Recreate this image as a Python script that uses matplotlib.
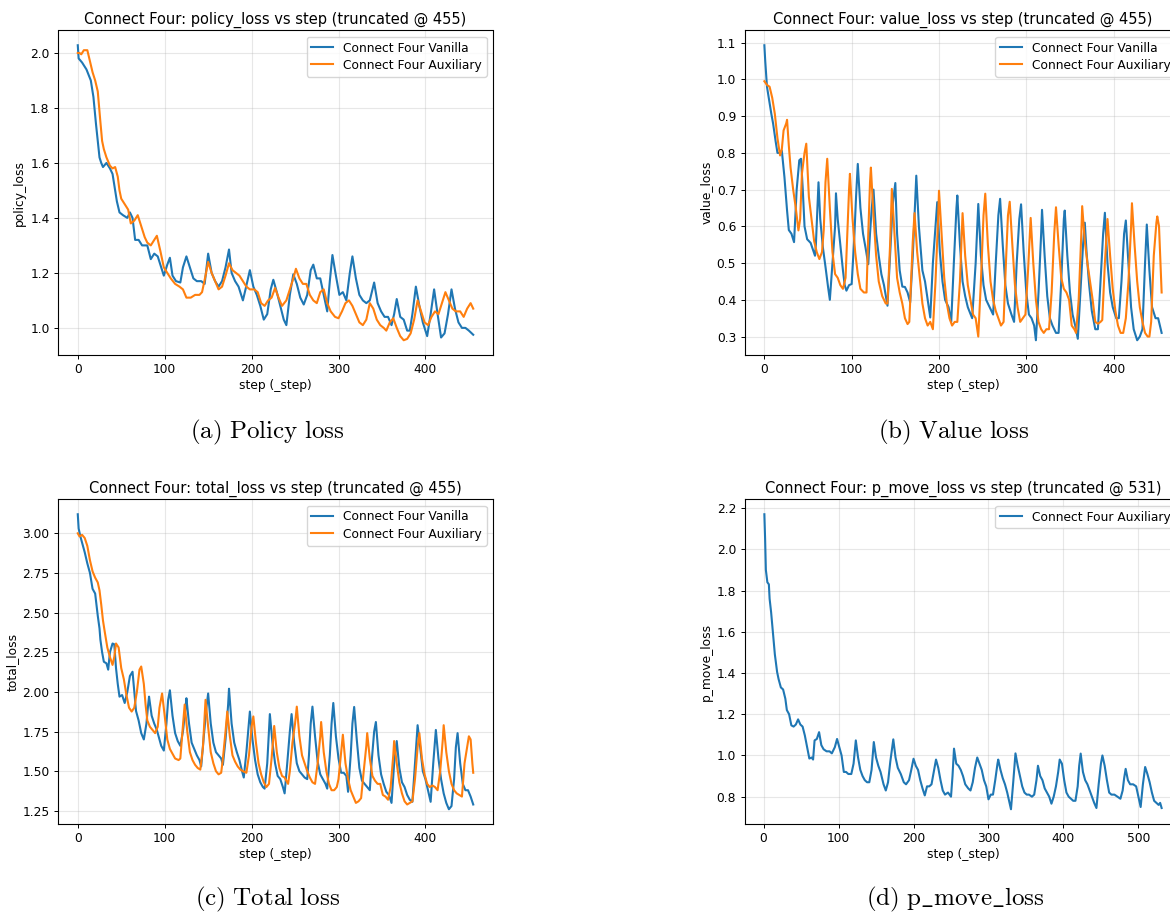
import matplotlib

matplotlib.use("Agg")
import matplotlib.pyplot as plt

# Connect Four training curves, (step, value) vertices per run.
policy_vanilla_steps = [0, 1, 5, 10, 15, 18, 21, 25, 27, 29, 33, 37, 40, 45, 48, 52, 57, 60, 63, 66, 70, 74, 80, 84, 88, 92, 95, 99, 103, 106, 109, 113, 118, 121, 125, 129, 133, 137, 142, 146, 150, 154, 158, 162, 166, 170, 174, 177, 181, 185, 190, 193, 198, 202, 206, 210, 214, 218, 222, 225, 229, 233, 237, 240, 244, 248, 252, 256, 260, 264, 268, 271, 275, 279, 283, 287, 290, 293, 297, 301, 305, 309, 313, 316, 320, 324, 328, 332, 336, 341, 345, 349, 353, 357, 361, 364, 367, 371, 375, 379, 382, 385, 389, 393, 397, 402, 406, 410, 414, 418, 422, 426, 430, 434, 438, 442, 446, 450, 455]
policy_vanilla = [2.028, 1.98, 1.965, 1.94, 1.90, 1.84, 1.74, 1.62, 1.60, 1.585, 1.60, 1.58, 1.56, 1.46, 1.42, 1.41, 1.40, 1.42, 1.40, 1.32, 1.32, 1.30, 1.30, 1.25, 1.27, 1.26, 1.23, 1.19, 1.23, 1.255, 1.19, 1.17, 1.165, 1.22, 1.26, 1.22, 1.18, 1.17, 1.17, 1.16, 1.27, 1.20, 1.17, 1.15, 1.17, 1.22, 1.285, 1.20, 1.17, 1.15, 1.10, 1.14, 1.21, 1.15, 1.12, 1.08, 1.03, 1.05, 1.14, 1.175, 1.13, 1.08, 1.03, 1.01, 1.12, 1.195, 1.16, 1.11, 1.085, 1.12, 1.21, 1.23, 1.18, 1.18, 1.12, 1.06, 1.17, 1.265, 1.19, 1.12, 1.13, 1.10, 1.20, 1.26, 1.18, 1.12, 1.10, 1.09, 1.10, 1.165, 1.09, 1.06, 1.04, 1.04, 1.01, 1.05, 1.105, 1.04, 1.03, 0.99, 0.99, 1.05, 1.15, 1.08, 1.02, 0.97, 1.05, 1.14, 1.05, 0.965, 0.98, 1.05, 1.14, 1.07, 1.02, 1.00, 1.00, 0.99, 0.975]

policy_aux_steps = [0, 2, 4, 7, 11, 14, 17, 20, 23, 26, 28, 30, 33, 37, 40, 43, 46, 48, 50, 54, 58, 61, 65, 69, 73, 77, 80, 84, 88, 91, 95, 99, 103, 107, 112, 117, 121, 125, 130, 135, 140, 143, 147, 150, 154, 158, 162, 166, 170, 174, 178, 182, 186, 190, 194, 198, 203, 207, 211, 215, 219, 223, 227, 231, 235, 240, 244, 248, 251, 255, 259, 263, 267, 271, 275, 279, 283, 287, 291, 296, 300, 304, 308, 312, 316, 320, 324, 328, 332, 336, 340, 344, 348, 352, 355, 359, 363, 367, 371, 375, 379, 383, 387, 391, 395, 399, 403, 407, 411, 415, 419, 423, 427, 431, 435, 440, 444, 448, 452, 455]
policy_aux = [2.00, 2.00, 1.995, 2.01, 2.01, 1.97, 1.93, 1.90, 1.86, 1.75, 1.68, 1.65, 1.62, 1.59, 1.58, 1.585, 1.55, 1.50, 1.47, 1.45, 1.43, 1.38, 1.39, 1.41, 1.37, 1.33, 1.31, 1.30, 1.32, 1.335, 1.28, 1.22, 1.20, 1.18, 1.16, 1.15, 1.14, 1.11, 1.11, 1.12, 1.12, 1.13, 1.19, 1.24, 1.20, 1.17, 1.14, 1.15, 1.19, 1.235, 1.21, 1.20, 1.19, 1.17, 1.15, 1.14, 1.14, 1.13, 1.09, 1.08, 1.10, 1.11, 1.145, 1.11, 1.08, 1.10, 1.14, 1.18, 1.215, 1.18, 1.16, 1.16, 1.12, 1.10, 1.09, 1.13, 1.14, 1.09, 1.06, 1.04, 1.035, 1.06, 1.09, 1.10, 1.08, 1.05, 1.02, 1.01, 1.03, 1.09, 1.07, 1.03, 1.01, 1.00, 0.99, 1.02, 1.035, 1.00, 0.97, 0.955, 0.96, 0.98, 1.03, 1.10, 1.06, 1.02, 1.01, 1.04, 1.06, 1.05, 1.09, 1.13, 1.10, 1.07, 1.06, 1.06, 1.04, 1.07, 1.09, 1.07]

value_vanilla_steps = [0, 1, 3, 5, 8, 10, 13, 15, 18, 20, 23, 26, 28, 31, 34, 37, 40, 42, 44, 46, 49, 53, 56, 58, 59, 61, 62, 64, 67, 70, 73, 75, 78, 81, 82, 84, 87, 90, 92, 94, 97, 100, 103, 105, 107, 110, 113, 116, 119, 121, 123, 125, 128, 131, 134, 137, 141, 144, 147, 150, 152, 155, 158, 161, 164, 167, 170, 173, 174, 177, 181, 184, 187, 190, 193, 196, 198, 201, 204, 207, 211, 214, 217, 220, 221, 224, 227, 230, 233, 238, 242, 245, 248, 251, 254, 258, 262, 265, 268, 270, 273, 276, 279, 283, 286, 289, 292, 294, 297, 300, 303, 306, 309, 311, 314, 317, 318, 321, 324, 327, 330, 334, 337, 340, 343, 344, 347, 350, 353, 356, 359, 362, 365, 367, 369, 372, 375, 379, 382, 385, 388, 390, 393, 396, 399, 403, 406, 409, 412, 414, 417, 420, 423, 427, 430, 433, 436, 438, 441, 444, 448, 451, 453, 455]
value_vanilla = [1.093, 1.05, 0.98, 0.95, 0.906, 0.88, 0.83, 0.80, 0.80, 0.806, 0.734, 0.643, 0.59, 0.58, 0.557, 0.70, 0.78, 0.784, 0.70, 0.60, 0.565, 0.555, 0.534, 0.52, 0.55, 0.66, 0.72, 0.62, 0.543, 0.49, 0.434, 0.40, 0.50, 0.60, 0.69, 0.62, 0.55, 0.48, 0.44, 0.425, 0.44, 0.443, 0.57, 0.68, 0.77, 0.65, 0.58, 0.54, 0.497, 0.58, 0.65, 0.70, 0.58, 0.52, 0.47, 0.44, 0.384, 0.52, 0.66, 0.718, 0.58, 0.48, 0.436, 0.435, 0.42, 0.393, 0.52, 0.68, 0.738, 0.60, 0.48, 0.45, 0.40, 0.352, 0.50, 0.60, 0.666, 0.53, 0.45, 0.40, 0.38, 0.34, 0.50, 0.65, 0.684, 0.55, 0.45, 0.41, 0.38, 0.35, 0.50, 0.661, 0.52, 0.44, 0.40, 0.38, 0.36, 0.50, 0.63, 0.675, 0.55, 0.44, 0.39, 0.36, 0.34, 0.50, 0.62, 0.66, 0.53, 0.42, 0.36, 0.35, 0.33, 0.29, 0.42, 0.58, 0.645, 0.52, 0.41, 0.35, 0.33, 0.31, 0.31, 0.45, 0.62, 0.643, 0.52, 0.42, 0.36, 0.33, 0.294, 0.42, 0.55, 0.61, 0.53, 0.44, 0.37, 0.32, 0.32, 0.45, 0.58, 0.637, 0.50, 0.42, 0.38, 0.35, 0.35, 0.45, 0.58, 0.616, 0.50, 0.38, 0.32, 0.29, 0.30, 0.32, 0.50, 0.605, 0.48, 0.38, 0.35, 0.35, 0.33, 0.31]

value_aux_steps = [0, 3, 6, 9, 12, 15, 18, 20, 22, 25, 26, 28, 30, 33, 36, 39, 41, 43, 46, 48, 51, 54, 57, 60, 63, 66, 68, 70, 72, 75, 78, 81, 84, 87, 90, 93, 95, 97, 98, 101, 104, 107, 110, 114, 117, 119, 121, 122, 125, 128, 131, 135, 139, 141, 144, 146, 149, 152, 155, 158, 161, 164, 166, 168, 170, 172, 175, 178, 181, 184, 187, 190, 193, 196, 199, 200, 203, 206, 209, 212, 215, 218, 221, 224, 227, 230, 233, 236, 239, 242, 245, 248, 251, 253, 256, 259, 262, 265, 268, 271, 274, 277, 279, 281, 284, 287, 290, 293, 296, 299, 302, 305, 308, 311, 314, 317, 320, 323, 326, 329, 332, 334, 337, 340, 343, 346, 349, 352, 355, 357, 360, 363, 364, 367, 370, 373, 376, 379, 382, 385, 387, 390, 392, 393, 396, 399, 402, 405, 408, 411, 414, 417, 420, 421, 424, 427, 430, 433, 436, 439, 441, 443, 446, 449, 450, 452, 454, 455]
value_aux = [0.995, 0.985, 0.98, 0.95, 0.906, 0.84, 0.793, 0.81, 0.861, 0.88, 0.89, 0.82, 0.76, 0.70, 0.65, 0.589, 0.62, 0.743, 0.80, 0.825, 0.68, 0.62, 0.56, 0.53, 0.511, 0.53, 0.59, 0.72, 0.784, 0.65, 0.53, 0.47, 0.46, 0.44, 0.43, 0.46, 0.58, 0.70, 0.743, 0.62, 0.53, 0.47, 0.43, 0.42, 0.42, 0.58, 0.72, 0.76, 0.63, 0.52, 0.45, 0.41, 0.39, 0.39, 0.55, 0.702, 0.58, 0.46, 0.42, 0.39, 0.35, 0.334, 0.34, 0.45, 0.56, 0.636, 0.53, 0.46, 0.39, 0.35, 0.33, 0.34, 0.32, 0.45, 0.62, 0.697, 0.58, 0.46, 0.39, 0.35, 0.33, 0.34, 0.34, 0.45, 0.636, 0.52, 0.44, 0.40, 0.36, 0.35, 0.30, 0.45, 0.63, 0.689, 0.55, 0.45, 0.40, 0.37, 0.35, 0.33, 0.34, 0.52, 0.63, 0.667, 0.55, 0.44, 0.38, 0.34, 0.35, 0.36, 0.48, 0.623, 0.50, 0.40, 0.34, 0.32, 0.31, 0.32, 0.32, 0.42, 0.58, 0.652, 0.55, 0.46, 0.43, 0.42, 0.40, 0.33, 0.32, 0.31, 0.40, 0.58, 0.655, 0.56, 0.50, 0.45, 0.40, 0.34, 0.335, 0.34, 0.345, 0.50, 0.58, 0.62, 0.52, 0.43, 0.37, 0.33, 0.31, 0.31, 0.35, 0.45, 0.60, 0.663, 0.55, 0.45, 0.38, 0.34, 0.31, 0.30, 0.30, 0.34, 0.52, 0.61, 0.627, 0.60, 0.48, 0.42]

total_vanilla_steps = [0, 1, 3, 5, 8, 11, 14, 17, 20, 23, 25, 26, 28, 30, 33, 35, 37, 40, 42, 44, 46, 48, 51, 54, 57, 60, 63, 65, 67, 70, 73, 76, 79, 81, 82, 85, 88, 91, 94, 96, 99, 102, 104, 106, 109, 112, 115, 118, 121, 124, 125, 128, 131, 134, 137, 140, 142, 145, 148, 150, 153, 156, 159, 162, 165, 167, 170, 173, 174, 177, 180, 183, 186, 189, 191, 194, 196, 198, 201, 204, 207, 210, 213, 215, 218, 220, 221, 224, 227, 230, 233, 236, 238, 241, 244, 246, 249, 252, 255, 258, 261, 264, 266, 268, 270, 273, 276, 279, 282, 285, 287, 290, 292, 294, 297, 300, 303, 306, 309, 311, 314, 316, 318, 321, 324, 327, 330, 333, 336, 338, 341, 343, 346, 349, 352, 355, 358, 361, 364, 367, 370, 373, 376, 379, 382, 385, 388, 391, 394, 397, 400, 403, 406, 409, 412, 415, 418, 421, 424, 427, 430, 433, 435, 437, 440, 443, 446, 449, 452, 455]
total_vanilla = [3.12, 3.03, 2.98, 2.94, 2.88, 2.81, 2.75, 2.65, 2.62, 2.48, 2.40, 2.33, 2.25, 2.19, 2.18, 2.14, 2.25, 2.305, 2.30, 2.15, 2.05, 1.97, 1.98, 1.93, 2.00, 2.10, 2.127, 2.00, 1.88, 1.82, 1.74, 1.70, 1.80, 1.92, 1.97, 1.85, 1.80, 1.76, 1.70, 1.66, 1.63, 1.80, 1.95, 2.01, 1.85, 1.74, 1.69, 1.66, 1.75, 1.90, 1.96, 1.80, 1.68, 1.64, 1.60, 1.57, 1.53, 1.72, 1.90, 1.99, 1.80, 1.68, 1.62, 1.60, 1.58, 1.54, 1.70, 1.92, 2.02, 1.80, 1.68, 1.62, 1.57, 1.50, 1.46, 1.62, 1.75, 1.876, 1.70, 1.57, 1.48, 1.43, 1.40, 1.39, 1.55, 1.75, 1.86, 1.68, 1.55, 1.47, 1.45, 1.40, 1.36, 1.55, 1.75, 1.86, 1.68, 1.55, 1.50, 1.48, 1.46, 1.45, 1.60, 1.80, 1.907, 1.72, 1.56, 1.48, 1.45, 1.42, 1.39, 1.60, 1.80, 1.93, 1.72, 1.58, 1.49, 1.49, 1.47, 1.37, 1.60, 1.80, 1.905, 1.70, 1.52, 1.44, 1.42, 1.40, 1.38, 1.55, 1.75, 1.81, 1.60, 1.48, 1.42, 1.37, 1.35, 1.30, 1.55, 1.69, 1.52, 1.43, 1.40, 1.35, 1.32, 1.307, 1.55, 1.79, 1.65, 1.50, 1.45, 1.38, 1.307, 1.55, 1.76, 1.58, 1.45, 1.36, 1.30, 1.26, 1.28, 1.45, 1.65, 1.74, 1.55, 1.42, 1.38, 1.38, 1.34, 1.29]

total_aux_steps = [0, 2, 5, 8, 11, 14, 17, 20, 23, 25, 27, 29, 31, 34, 37, 40, 42, 44, 47, 50, 53, 56, 59, 62, 65, 68, 71, 73, 76, 78, 80, 83, 86, 89, 92, 94, 97, 100, 103, 106, 109, 112, 116, 118, 120, 122, 123, 126, 129, 132, 135, 138, 141, 144, 146, 147, 150, 153, 156, 159, 162, 165, 167, 170, 172, 175, 178, 181, 184, 187, 190, 194, 197, 200, 202, 205, 208, 211, 214, 217, 220, 223, 226, 229, 232, 235, 238, 242, 244, 247, 250, 252, 255, 258, 261, 264, 267, 270, 273, 276, 279, 280, 283, 286, 289, 292, 295, 298, 300, 303, 305, 308, 311, 314, 317, 320, 323, 326, 329, 332, 333, 336, 339, 342, 345, 348, 351, 354, 357, 360, 363, 364, 367, 370, 373, 376, 379, 382, 385, 388, 391, 393, 396, 399, 402, 405, 408, 411, 414, 417, 420, 421, 424, 427, 430, 433, 436, 439, 442, 445, 448, 450, 452, 454, 455]
total_aux = [3.00, 2.98, 2.99, 2.97, 2.92, 2.83, 2.76, 2.72, 2.69, 2.64, 2.55, 2.45, 2.38, 2.28, 2.22, 2.17, 2.22, 2.305, 2.28, 2.15, 2.08, 1.98, 1.90, 1.876, 1.90, 2.00, 2.14, 2.16, 2.05, 1.92, 1.82, 1.78, 1.76, 1.74, 1.78, 1.90, 1.99, 1.85, 1.70, 1.64, 1.61, 1.58, 1.57, 1.58, 1.72, 1.85, 1.92, 1.75, 1.62, 1.57, 1.54, 1.52, 1.51, 1.65, 1.85, 1.95, 1.78, 1.62, 1.55, 1.50, 1.48, 1.49, 1.58, 1.75, 1.876, 1.72, 1.60, 1.56, 1.53, 1.51, 1.50, 1.49, 1.60, 1.78, 1.845, 1.68, 1.55, 1.48, 1.43, 1.40, 1.42, 1.58, 1.785, 1.62, 1.52, 1.47, 1.46, 1.42, 1.50, 1.68, 1.80, 1.907, 1.72, 1.60, 1.55, 1.50, 1.46, 1.43, 1.42, 1.55, 1.72, 1.81, 1.62, 1.50, 1.42, 1.38, 1.38, 1.40, 1.45, 1.62, 1.73, 1.55, 1.45, 1.38, 1.34, 1.30, 1.31, 1.33, 1.50, 1.66, 1.74, 1.58, 1.47, 1.44, 1.42, 1.42, 1.35, 1.34, 1.32, 1.40, 1.60, 1.69, 1.55, 1.43, 1.36, 1.31, 1.29, 1.30, 1.31, 1.45, 1.65, 1.74, 1.58, 1.48, 1.42, 1.40, 1.41, 1.40, 1.38, 1.50, 1.70, 1.79, 1.62, 1.50, 1.42, 1.38, 1.36, 1.35, 1.34, 1.55, 1.65, 1.72, 1.70, 1.55, 1.49]

p_move_steps = [1, 2, 3, 5, 7, 8, 10, 12, 15, 18, 20, 23, 26, 29, 31, 34, 37, 40, 43, 46, 49, 52, 55, 58, 61, 64, 66, 68, 71, 74, 77, 80, 84, 88, 91, 95, 98, 101, 104, 107, 110, 113, 117, 120, 123, 126, 129, 132, 135, 138, 141, 144, 147, 150, 153, 156, 160, 163, 166, 169, 173, 176, 179, 183, 187, 190, 194, 197, 200, 203, 206, 209, 212, 215, 218, 221, 224, 227, 230, 233, 236, 239, 242, 246, 250, 252, 254, 257, 260, 263, 266, 269, 273, 276, 279, 282, 285, 288, 291, 294, 297, 300, 303, 306, 309, 312, 313, 316, 319, 322, 325, 328, 330, 333, 336, 339, 342, 345, 348, 351, 354, 358, 361, 364, 366, 369, 372, 375, 378, 381, 384, 387, 390, 393, 395, 398, 401, 404, 407, 410, 413, 416, 419, 421, 423, 426, 429, 432, 435, 438, 441, 444, 447, 450, 452, 455, 458, 461, 464, 468, 472, 476, 479, 481, 483, 486, 489, 493, 497, 500, 503, 506, 509, 512, 515, 518, 521, 524, 527, 529, 531]
p_move_aux = [2.17, 2.05, 1.90, 1.84, 1.83, 1.76, 1.695, 1.615, 1.49, 1.405, 1.37, 1.33, 1.32, 1.275, 1.22, 1.20, 1.146, 1.14, 1.15, 1.175, 1.15, 1.14, 1.097, 1.04, 0.985, 0.99, 0.98, 1.073, 1.08, 1.113, 1.05, 1.03, 1.02, 1.02, 1.01, 1.04, 1.08, 1.04, 1.00, 0.92, 0.92, 0.91, 0.91, 0.96, 1.073, 0.99, 0.93, 0.90, 0.88, 0.87, 0.87, 0.93, 1.065, 0.99, 0.95, 0.92, 0.86, 0.83, 0.87, 0.97, 1.078, 0.99, 0.94, 0.91, 0.87, 0.86, 0.88, 0.93, 0.984, 0.95, 0.93, 0.88, 0.84, 0.806, 0.85, 0.85, 0.86, 0.92, 0.98, 0.94, 0.88, 0.83, 0.81, 0.82, 0.80, 0.90, 1.033, 0.96, 0.95, 0.93, 0.90, 0.86, 0.84, 0.83, 0.87, 0.94, 0.99, 0.96, 0.93, 0.88, 0.85, 0.787, 0.81, 0.81, 0.88, 0.96, 0.98, 0.93, 0.89, 0.86, 0.82, 0.77, 0.739, 0.87, 1.01, 0.95, 0.90, 0.85, 0.82, 0.81, 0.81, 0.80, 0.81, 0.88, 0.95, 0.90, 0.88, 0.84, 0.82, 0.80, 0.766, 0.80, 0.85, 0.92, 0.98, 0.96, 0.88, 0.82, 0.80, 0.79, 0.78, 0.78, 0.85, 0.95, 1.009, 0.92, 0.88, 0.86, 0.83, 0.80, 0.77, 0.745, 0.86, 0.96, 1.00, 0.95, 0.88, 0.82, 0.81, 0.81, 0.80, 0.79, 0.83, 0.89, 0.935, 0.88, 0.86, 0.86, 0.85, 0.80, 0.75, 0.86, 0.944, 0.91, 0.87, 0.82, 0.78, 0.77, 0.76, 0.77, 0.745]

VANILLA = "Connect Four Vanilla"
AUX = "Connect Four Auxiliary"

W, H = 1170, 913


def px_axes(fig, left, top, width, height):
    return fig.add_axes([left / W, 1 - (top + height) / H, width / W, height / H])


def draw_panel(ax, metric, limit, series):
    for steps, values, label, color in series:
        ax.plot(steps, values, color=color, lw=1.5, label=label)
    ax.set_title(f"Connect Four: {metric} vs step (truncated @ {limit})", fontsize=10.5, pad=5)
    ax.set_xlabel("step (_step)", fontsize=8.8, labelpad=2)
    ax.set_ylabel(metric, fontsize=8.8, labelpad=3)
    ax.tick_params(labelsize=8.8, length=3, width=0.7, pad=3)
    ax.grid(True, color="#b0b0b0", alpha=0.3, lw=0.8)
    for spine in ax.spines.values():
        spine.set_linewidth(0.8)
    ax.legend(loc="upper right", fontsize=8.8, handlelength=1.8, borderpad=0.4, labelspacing=0.35)


def main() -> None:
    plt.rcParams["font.family"] = ["DejaVu Sans"]
    plt.rcParams["mathtext.fontset"] = "cm"

    fig = plt.figure(figsize=(W / 100, H / 100), dpi=100)

    ax_a = px_axes(fig, 58, 30.5, 435, 324.5)
    draw_panel(ax_a, "policy_loss", 455, [
        (policy_vanilla_steps, policy_vanilla, VANILLA, "tab:blue"),
        (policy_aux_steps, policy_aux, AUX, "tab:orange"),
    ])

    ax_b = px_axes(fig, 744.5, 30.5, 437, 324.5)
    draw_panel(ax_b, "value_loss", 455, [
        (value_vanilla_steps, value_vanilla, VANILLA, "tab:blue"),
        (value_aux_steps, value_aux, AUX, "tab:orange"),
    ])

    ax_c = px_axes(fig, 58, 499.5, 435, 324.5)
    draw_panel(ax_c, "total_loss", 455, [
        (total_vanilla_steps, total_vanilla, VANILLA, "tab:blue"),
        (total_aux_steps, total_aux, AUX, "tab:orange"),
    ])

    ax_d = px_axes(fig, 744.5, 499.5, 437, 324.5)
    draw_panel(ax_d, "p_move_loss", 531, [
        (p_move_steps, p_move_aux, AUX, "tab:blue"),
    ])

    captions = [
        (267, 432, r"$\mathrm{(a)\ Policy\ loss}$"),
        (954, 432, r"$\mathrm{(b)\ Value\ loss}$"),
        (268, 899, r"$\mathrm{(c)\ Total\ loss}$"),
        (955, 899, r"$\mathrm{(d)\ p\_move\_loss}$"),
    ]
    for x, y, text in captions:
        fig.text(x / W, 1 - y / H, text, ha="center", va="center", fontsize=18)

    fig.savefig("out.png", dpi=100)
    plt.close(fig)


if __name__ == "__main__":
    main()
